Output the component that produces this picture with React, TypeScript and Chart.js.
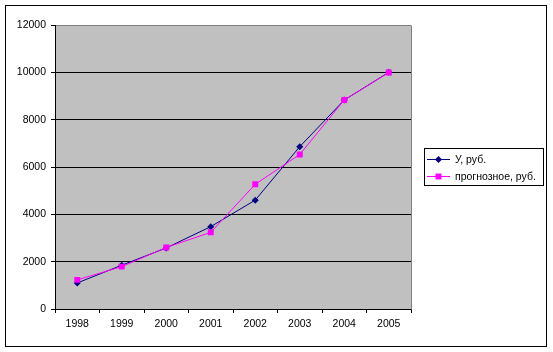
import React, { useEffect, useRef } from "react";
import { Chart, registerables } from "chart.js";

Chart.register(...registerables);

const categories = ["1998", "1999", "2000", "2001", "2002", "2003", "2004", "2005"];
const seriesY = [1100, 1850, 2580, 3480, 4600, 6860, 8830, 10000];
const seriesForecast = [1230, 1790, 2600, 3240, 5270, 6530, 8830, 9990];
const seriesNames = ["У, руб.", "прогнозное, руб."];
const yTicks = [0, 2000, 4000, 6000, 8000, 10000, 12000];

const FONT = "'Liberation Sans', Arial, sans-serif";
const BLUE = "#000080";
const MAGENTA = "#FF00FF";

const framePlugin = {
  id: "frame",
  beforeDraw(chart: any) {
    const { ctx, chartArea: a } = chart;
    ctx.save();
    ctx.fillStyle = "#C0C0C0";
    ctx.fillRect(a.left, a.top, a.right - a.left, a.bottom - a.top);
    ctx.restore();
  },
  afterDraw(chart: any) {
    const { ctx, chartArea: a } = chart;
    ctx.save();
    ctx.strokeStyle = "#808080";
    ctx.lineWidth = 1;
    ctx.beginPath();
    ctx.moveTo(Math.round(a.right) + 0.5, Math.round(a.top) + 0.5);
    ctx.lineTo(Math.round(a.right) + 0.5, Math.round(a.bottom) + 0.5);
    ctx.stroke();
    ctx.strokeStyle = "#000";
    ctx.strokeRect(5.5, 5.5, 541, 341);
    const lx = 424.5, ly = 148.5, lw = 119, lh = 37;
    ctx.fillStyle = "#fff";
    ctx.fillRect(lx, ly, lw, lh);
    ctx.strokeStyle = "#000";
    ctx.strokeRect(lx, ly, lw, lh);
    const items = [
      { name: seriesNames[0], color: BLUE, style: "rectRot", r: 3.5, y: 159.5 },
      { name: seriesNames[1], color: MAGENTA, style: "rect", r: 4.2, y: 176.5 },
    ];
    ctx.font = "10.5px " + FONT;
    ctx.textBaseline = "middle";
    ctx.textAlign = "left";
    for (const it of items) {
      ctx.strokeStyle = it.color;
      ctx.lineWidth = 1;
      ctx.beginPath();
      ctx.moveTo(427, it.y);
      ctx.lineTo(450, it.y);
      ctx.stroke();
      ctx.fillStyle = it.color;
      ctx.beginPath();
      if (it.style === "rect") {
        const s = it.r * Math.SQRT1_2;
        ctx.rect(438.5 - s, it.y - s, 2 * s, 2 * s);
      } else {
        ctx.moveTo(438.5, it.y - it.r);
        ctx.lineTo(438.5 + it.r, it.y);
        ctx.lineTo(438.5, it.y + it.r);
        ctx.lineTo(438.5 - it.r, it.y);
        ctx.closePath();
      }
      ctx.fill();
      ctx.fillStyle = "#000";
      ctx.fillText(it.name, 455, it.y + 0.5);
    }
    ctx.restore();
  },
};

export default function App() {
  const ref = useRef<HTMLCanvasElement | null>(null);
  useEffect(() => {
    document.body.style.margin = "0";
    const canvas = ref.current!;
    const chart = new Chart(canvas, {
      type: "line",
      data: {
        labels: categories,
        datasets: [
          {
            label: seriesNames[0],
            data: seriesY,
            borderColor: BLUE,
            backgroundColor: BLUE,
            borderWidth: 1,
            pointStyle: "rectRot",
            pointRadius: 3.5,
            pointBorderWidth: 0,
            tension: 0,
            order: 1,
          },
          {
            label: seriesNames[1],
            data: seriesForecast,
            borderColor: MAGENTA,
            backgroundColor: MAGENTA,
            borderWidth: 1,
            pointStyle: "rect",
            pointRadius: 4.2,
            pointBorderWidth: 0,
            tension: 0,
            order: 0,
          },
        ],
      },
      options: {
        responsive: false,
        animation: false,
        devicePixelRatio: 1,
        layout: { padding: { left: 0, top: 25, right: 142, bottom: 0 } },
        plugins: {
          legend: { display: false },
          tooltip: { enabled: false },
        },
        scales: {
          x: {
            offset: true,
            grid: {
              offset: true,
              drawOnChartArea: false,
              drawTicks: true,
              tickLength: 4,
              tickColor: "#000",
            },
            border: { color: "#000", width: 1 },
            ticks: {
              color: "#000",
              font: { family: FONT, size: 10.5 },
              padding: 5,
              maxRotation: 0,
            },
            afterFit(scale: any) {
              scale.height = 43;
            },
          },
          y: {
            min: 0,
            max: 12000,
            afterBuildTicks(scale: any) {
              scale.ticks = yTicks.map((v) => ({ value: v }));
            },
            grid: {
              color: (c: any) => (c.tick && c.tick.value === 12000 ? "#808080" : "#000"),
              tickColor: "#000",
              tickLength: 4,
              lineWidth: 1,
            },
            border: { color: "#000", width: 1 },
            ticks: {
              color: "#000",
              font: { family: FONT, size: 10.5 },
              padding: 5,
              callback: (v: any) => String(v),
            },
            afterFit(scale: any) {
              scale.width = 55;
            },
          },
        },
      },
      plugins: [framePlugin],
    });
    return () => chart.destroy();
  }, []);
  return (
    <div style={{ position: "absolute", left: 0, top: 0, width: 553, height: 352 }}>
      <canvas ref={ref} width={553} height={352} />
    </div>
  );
}
